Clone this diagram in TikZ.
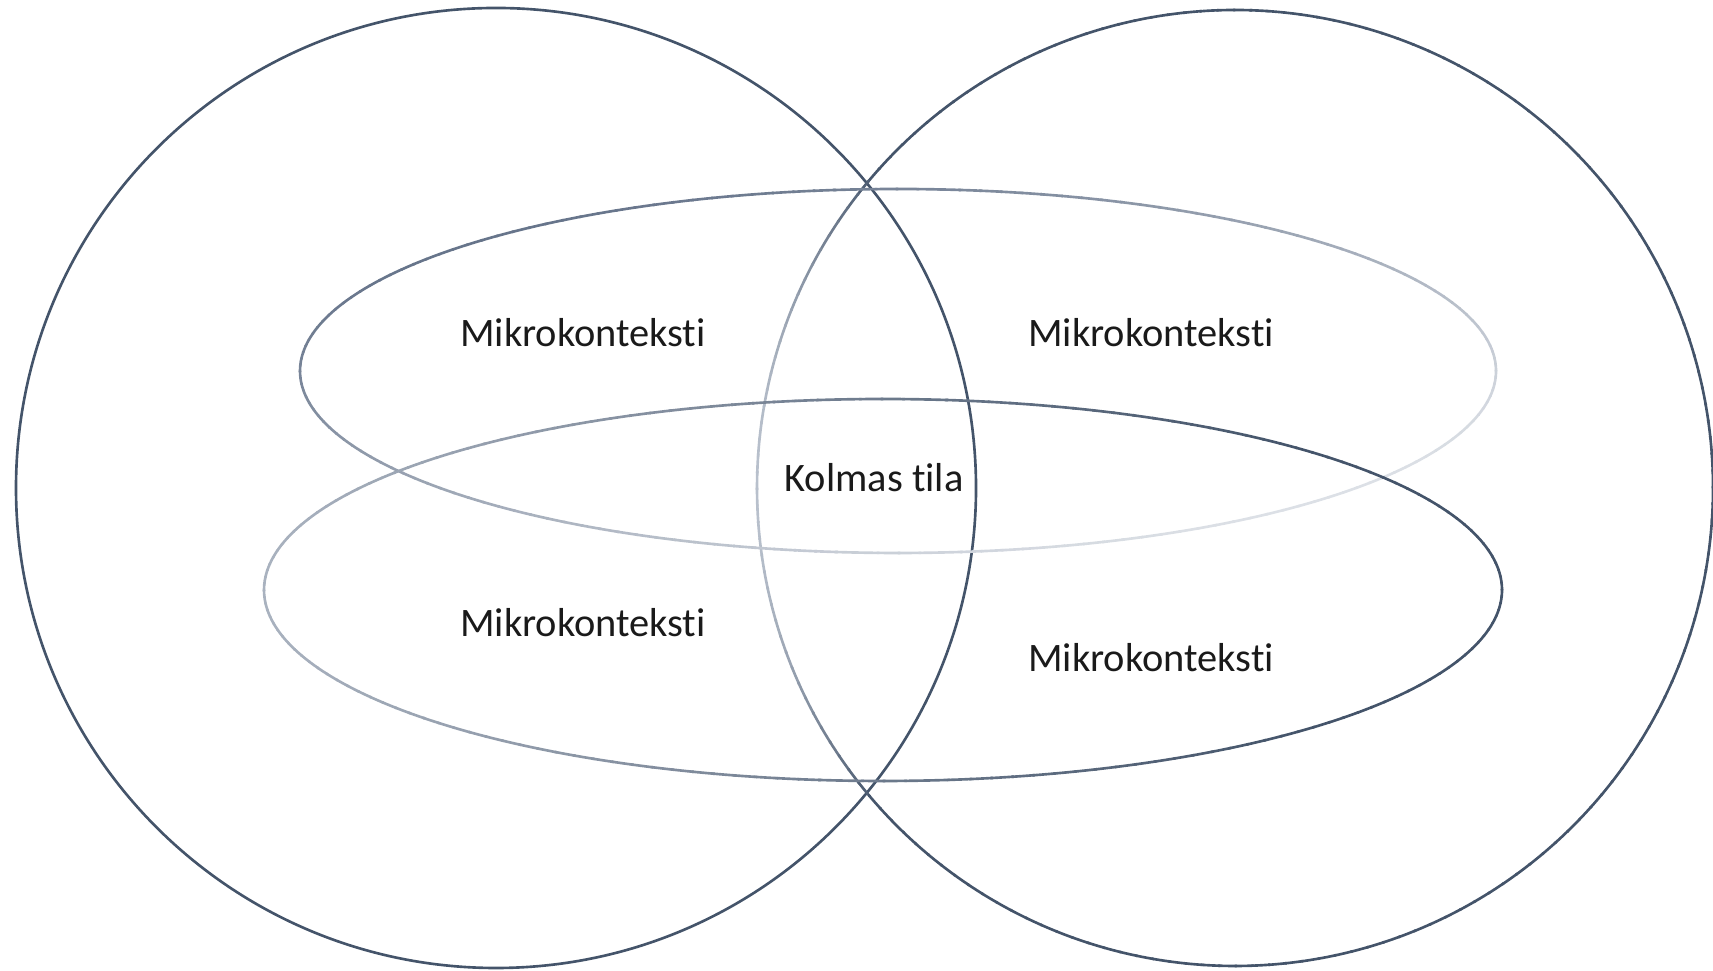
\documentclass[tikz,border=0pt]{standalone}
\usepackage{fontspec}
\setmainfont[Ligatures={NoCommon,NoRequired}]{Carlito}
\definecolor{darkline}{HTML}{44546A}
\definecolor{rclight}{HTML}{B8C0CC}
\definecolor{telight}{HTML}{DCE0E6}
\definecolor{tedark}{HTML}{66748A}
\definecolor{belight}{HTML}{A9B2BF}
\definecolor{textcol}{HTML}{1A1A1A}
\begin{document}
\begin{tikzpicture}[
  shapeline/.style={line width=0.75pt, line cap=round},
  label/.style={font=\fontsize{11.5}{14}\selectfont, text=textcol, inner sep=1pt}
]
\useasboundingbox (0,0) rectangle (17.13,9.71);
\coordinate (lc) at (4.96,4.83);
\coordinate (rc) at (12.35,4.83);
\coordinate (te) at (8.98,6.00);
\coordinate (be) at (8.83,3.81);

% left circle
\draw[shapeline, draw=darkline] (lc) circle[radius=4.80];

% right circle (lighter on its left arc)
\foreach \a in {0,2,...,358}{
  \pgfmathtruncatemacro\p{min(100,max(0,400*(1+cos(\a+1))))}
  \draw[shapeline, draw=darkline!\p!rclight] ([shift={(\a:4.78)}]rc) arc[start angle=\a, delta angle=2.2, radius=4.78];
}

% top ellipse (dark top-left, light bottom-right)
\foreach \a in {0,2,...,358}{
  \pgfmathtruncatemacro\p{min(100,max(0,50*(1+(sin(\a+1)-cos(\a+1))/1.4142)))}
  \draw[shapeline, draw=tedark!\p!telight] ([shift={({5.98*cos(\a)},{1.82*sin(\a)})}]te) arc[start angle=\a, delta angle=2.2, x radius=5.98, y radius=1.82];
}

% bottom ellipse (dark on the right, light on the left)
\foreach \a in {0,2,...,358}{
  \pgfmathtruncatemacro\p{min(100,max(0,60+60*cos(\a+1)))}
  \draw[shapeline, draw=darkline!\p!belight] ([shift={({6.19*cos(\a)},{1.91*sin(\a)})}]be) arc[start angle=\a, delta angle=2.2, x radius=6.19, y radius=1.91];
}

\node[label] (m1) at (5.83,6.38) {Mikrokonteksti};
\node[label] (m2) at (11.51,6.38) {Mikrokonteksti};
\node[label] (m3) at (5.83,3.48) {Mikrokonteksti};
\node[label] (m4) at (11.51,3.13) {Mikrokonteksti};
\node[label] (k) at (8.74,4.93) {Kolmas tila};
\end{tikzpicture}
\end{document}
